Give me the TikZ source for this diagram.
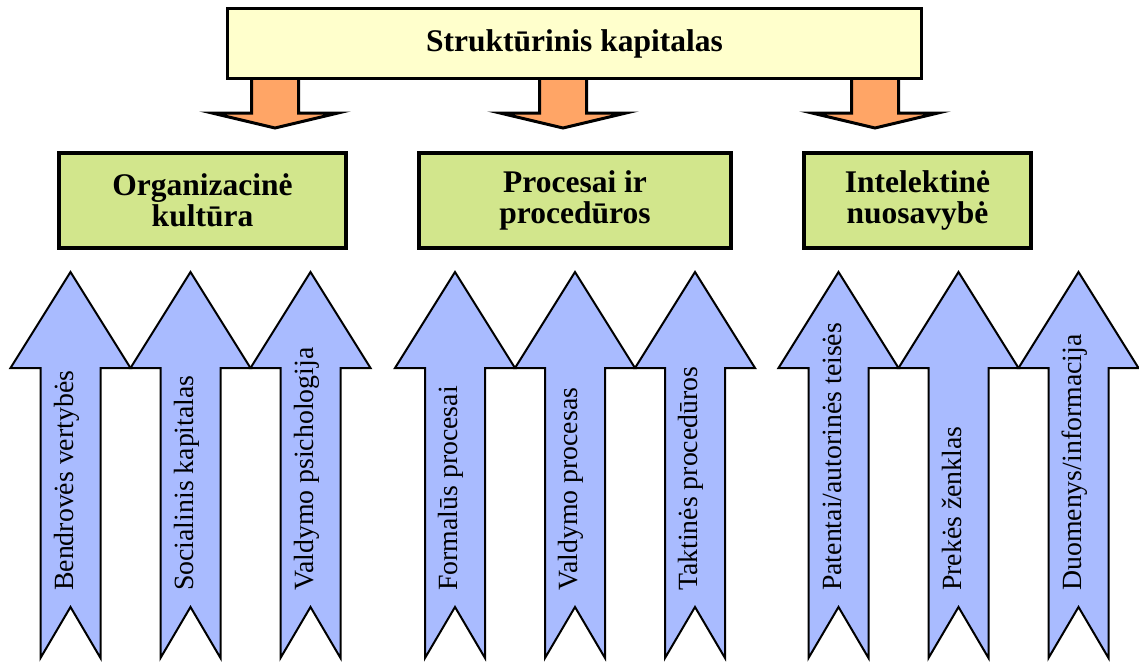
\documentclass[tikz,border=0pt]{standalone}
\usepackage{fontspec}
\setmainfont{Liberation Serif}
\definecolor{titlefill}{HTML}{FFFFCC}
\definecolor{boxfill}{HTML}{D2E68C}
\definecolor{orangefill}{HTML}{FFA566}
\definecolor{bluefill}{HTML}{A9BBFF}
\tikzset{
  titlebox/.style={draw=black, line width=3pt, fill=titlefill, minimum width=694pt, minimum height=70pt, inner sep=0pt,
    font=\fontsize{31.5}{31}\selectfont\bfseries},
  greenbox/.style={draw=black, line width=4pt, fill=boxfill, minimum height=95pt, inner sep=0pt, align=center,
    font=\fontsize{31.5}{31}\selectfont\bfseries},
  orangearrow/.style={draw=black, line width=3pt, fill=orangefill, line join=miter},
  bluearrow/.style={draw=black, line width=2pt, fill=bluefill, line join=miter},
  bluetext/.style={rotate=90, anchor=base west, inner sep=0pt, font=\fontsize{27.8}{30}\selectfont}
}
\begin{document}
\begin{tikzpicture}[x=1pt, y=-1pt]
\useasboundingbox (0,0) rectangle (1139,661);
% orange arrows
\foreach \c [count=\i] in {275,563,875}{
  \draw[orangearrow] (\c-23.5,78) -- (\c-23.5,113) -- (\c-63,113) -- (\c,128) -- (\c+63,113) -- (\c+23.5,113) -- (\c+23.5,78) -- cycle;
}
% title
\node[titlebox] (title) at (574.5,43.5) {Struktūrinis kapitalas};
% green boxes
\node[greenbox, minimum width=287pt] (org) at (202.5,200.5) {Organizacinė\\kultūra};
\node[greenbox, minimum width=312pt] (proc) at (575,200.5) {Procesai ir\\procedūros};
\node[greenbox, minimum width=227pt] (intel) at (917.5,200.5) {Intelektinė\\nuosavybė};
% blue arrows
\foreach \c in {70.5,190.5,310.5,455,575,695,838.5,958.5,1078.5}{
  \draw[bluearrow] (\c,272) -- (\c+60,368) -- (\c+30,368) -- (\c+30,658) -- (\c,607) -- (\c-30,658) -- (\c-30,368) -- (\c-60,368) -- cycle;
}
\node[bluetext] (b1) at (73.2,591) {Bendrovės vertybės};
\node[bluetext] (b2) at (193.2,591) {Socialinis kapitalas};
\node[bluetext] (b3) at (313.2,591) {Valdymo psichologija};
\node[bluetext] (b4) at (457.7,591) {Formalūs procesai};
\node[bluetext] (b5) at (577.7,591) {Valdymo procesas};
\node[bluetext] (b6) at (697.7,591) {Taktinės procedūros};
\node[bluetext] (b7) at (841.2,591) {Patentai/autorinės teisės};
\node[bluetext] (b8) at (961.2,591) {Prekės ženklas};
\node[bluetext] (b9) at (1081.2,591) {Duomenys/informacija};
\end{tikzpicture}
\end{document}
